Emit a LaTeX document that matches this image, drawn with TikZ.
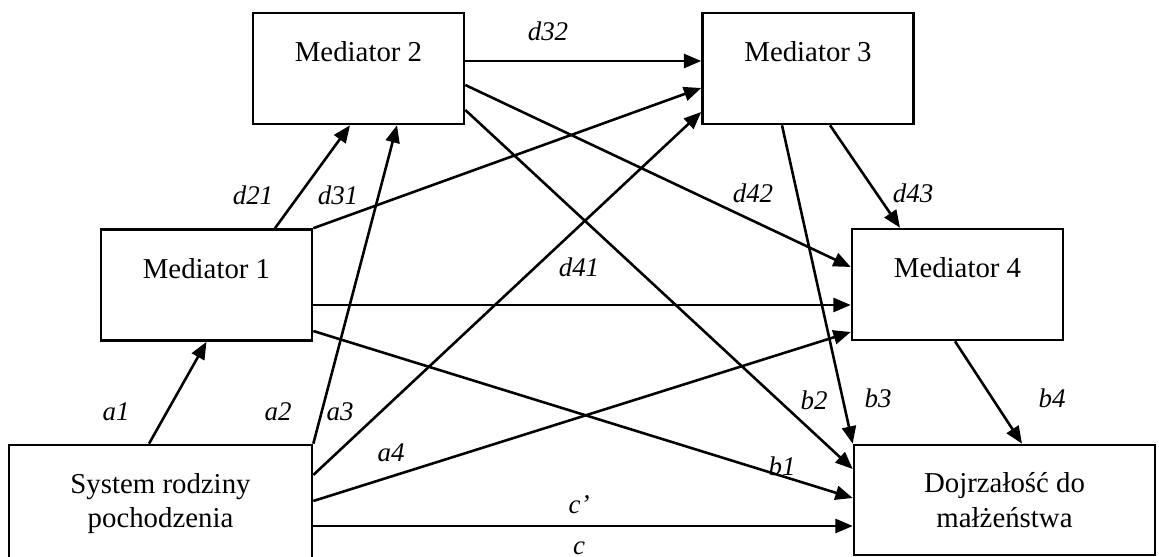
\documentclass[tikz,border=0pt]{standalone}
\usepackage{fontspec}
\setmainfont{Liberation Serif}
\usepackage{tikz}
\usetikzlibrary{arrows.meta, positioning, calc}
\tikzstyle{medbox} = [rectangle, draw=black, line width=1.1pt, minimum width=3.165cm, minimum height=1.665cm, inner ysep=0pt, text height=0.73cm, text depth=0.935cm, font=\fontsize{12.3}{14.8}\selectfont]
\tikzstyle{outbox} = [rectangle, draw=black, line width=1.1pt, align=center, inner sep=0pt, font=\fontsize{12.3}{14.8}\selectfont]
\tikzstyle{lbl} = [inner sep=0pt, font=\fontsize{11.5}{13}\selectfont\itshape]
\tikzstyle{arrow} = [line width=1.1pt, -{Triangle[length=7.4pt, width=6pt]}]

\begin{document}
\begin{tikzpicture}[x=0.015cm, y=-0.015cm]
  \useasboundingbox (0,0) rectangle (1159,557);

  % Mediators
  \node (m2) [medbox] at (358.5,68.5) {Mediator 2};
  \node (m3) [medbox] at (808,68.5) {Mediator 3};
  \node (m1) [medbox] at (206.5,285) {Mediator 1};
  \node (m4) [medbox] at (957.5,284.5) {Mediator 4};

  % Source and outcome
  \node (sys) [outbox, minimum width=4.545cm, minimum height=1.755cm] at (160.5,503.5) {System rodziny\\pochodzenia};
  \node (dojr) [outbox, minimum width=4.515cm, minimum height=1.65cm] at (1004.5,500) {Dojrzałość do\\małżeństwa};

  % Paths from the source
  \draw[arrow] ([shift={(-11.5,0)}]sys.north) -- (m1.south);
  \draw[arrow] (sys.north east) -- ([shift={(38.5,0)}]m2.south);
  \draw[arrow] ([shift={(0,-28.5)}]sys.east) -- ([shift={(0,43.5)}]m3.west);
  \draw[arrow] ([shift={(0,-2.5)}]sys.east) -- ([shift={(0,47.5)}]m4.west);
  \coordinate (cdirect) at ([shift={(0,22.5)}]sys.east);
  \draw[arrow] (cdirect) -- (cdirect -| dojr.west);

  % Paths between mediators
  \draw[arrow] ([shift={(68.5,0)}]m1.north) -- ([shift={(-8.5,0)}]m2.south);
  \draw[arrow] (m1.north east) -- ([shift={(0,19.5)}]m3.west);
  \coordinate (d41start) at ([shift={(0,20)}]m1.east);
  \draw[arrow] (d41start) -- (d41start -| m4.west);
  \coordinate (d32start) at ([shift={(0,-7.5)}]m2.east);
  \draw[arrow] (d32start) -- (d32start -| m3.west);
  \draw[arrow] ([shift={(0,16.5)}]m2.east) -- ([shift={(0,-17.5)}]m4.west);
  \draw[arrow] ([shift={(22,0)}]m3.south) -- ([shift={(-57.5,0)}]m4.north);

  % Paths to the outcome
  \draw[arrow] ([shift={(0,46)}]m1.east) -- ([shift={(0,-2)}]dojr.west);
  \draw[arrow] ([shift={(0,41.5)}]m2.east) -- ([shift={(0,-31)}]dojr.west);
  \draw[arrow] ([shift={(-26,0)}]m3.south) -- (dojr.north west);
  \draw[arrow] ([shift={(-2.5,0)}]m4.south) -- ([shift={(17.5,0)}]dojr.north);

  % Labels
  \node (la1) [lbl] at (116,412) {a1};
  \node (la2) [lbl] at (278,412) {a2};
  \node (la3) [lbl] at (340,412) {a3};
  \node (la4) [lbl] at (391,453) {a4};
  \node (lcp) [lbl] at (579,505) {c’};
  \node (lc) [lbl] at (579,548) {c};
  \node (ld21) [lbl] at (253,195) {d21};
  \node (ld31) [lbl] at (338,195) {d31};
  \node (ld32) [lbl] at (548,31) {d32};
  \node (ld41) [lbl] at (579,267) {d41};
  \node (ld42) [lbl] at (753,193) {d42};
  \node (ld43) [lbl] at (913,193) {d43};
  \node (lb1) [lbl] at (782,466) {b1};
  \node (lb2) [lbl] at (814,400) {b2};
  \node (lb3) [lbl] at (878,398) {b3};
  \node (lb4) [lbl] at (1052,398) {b4};
\end{tikzpicture}
\end{document}
